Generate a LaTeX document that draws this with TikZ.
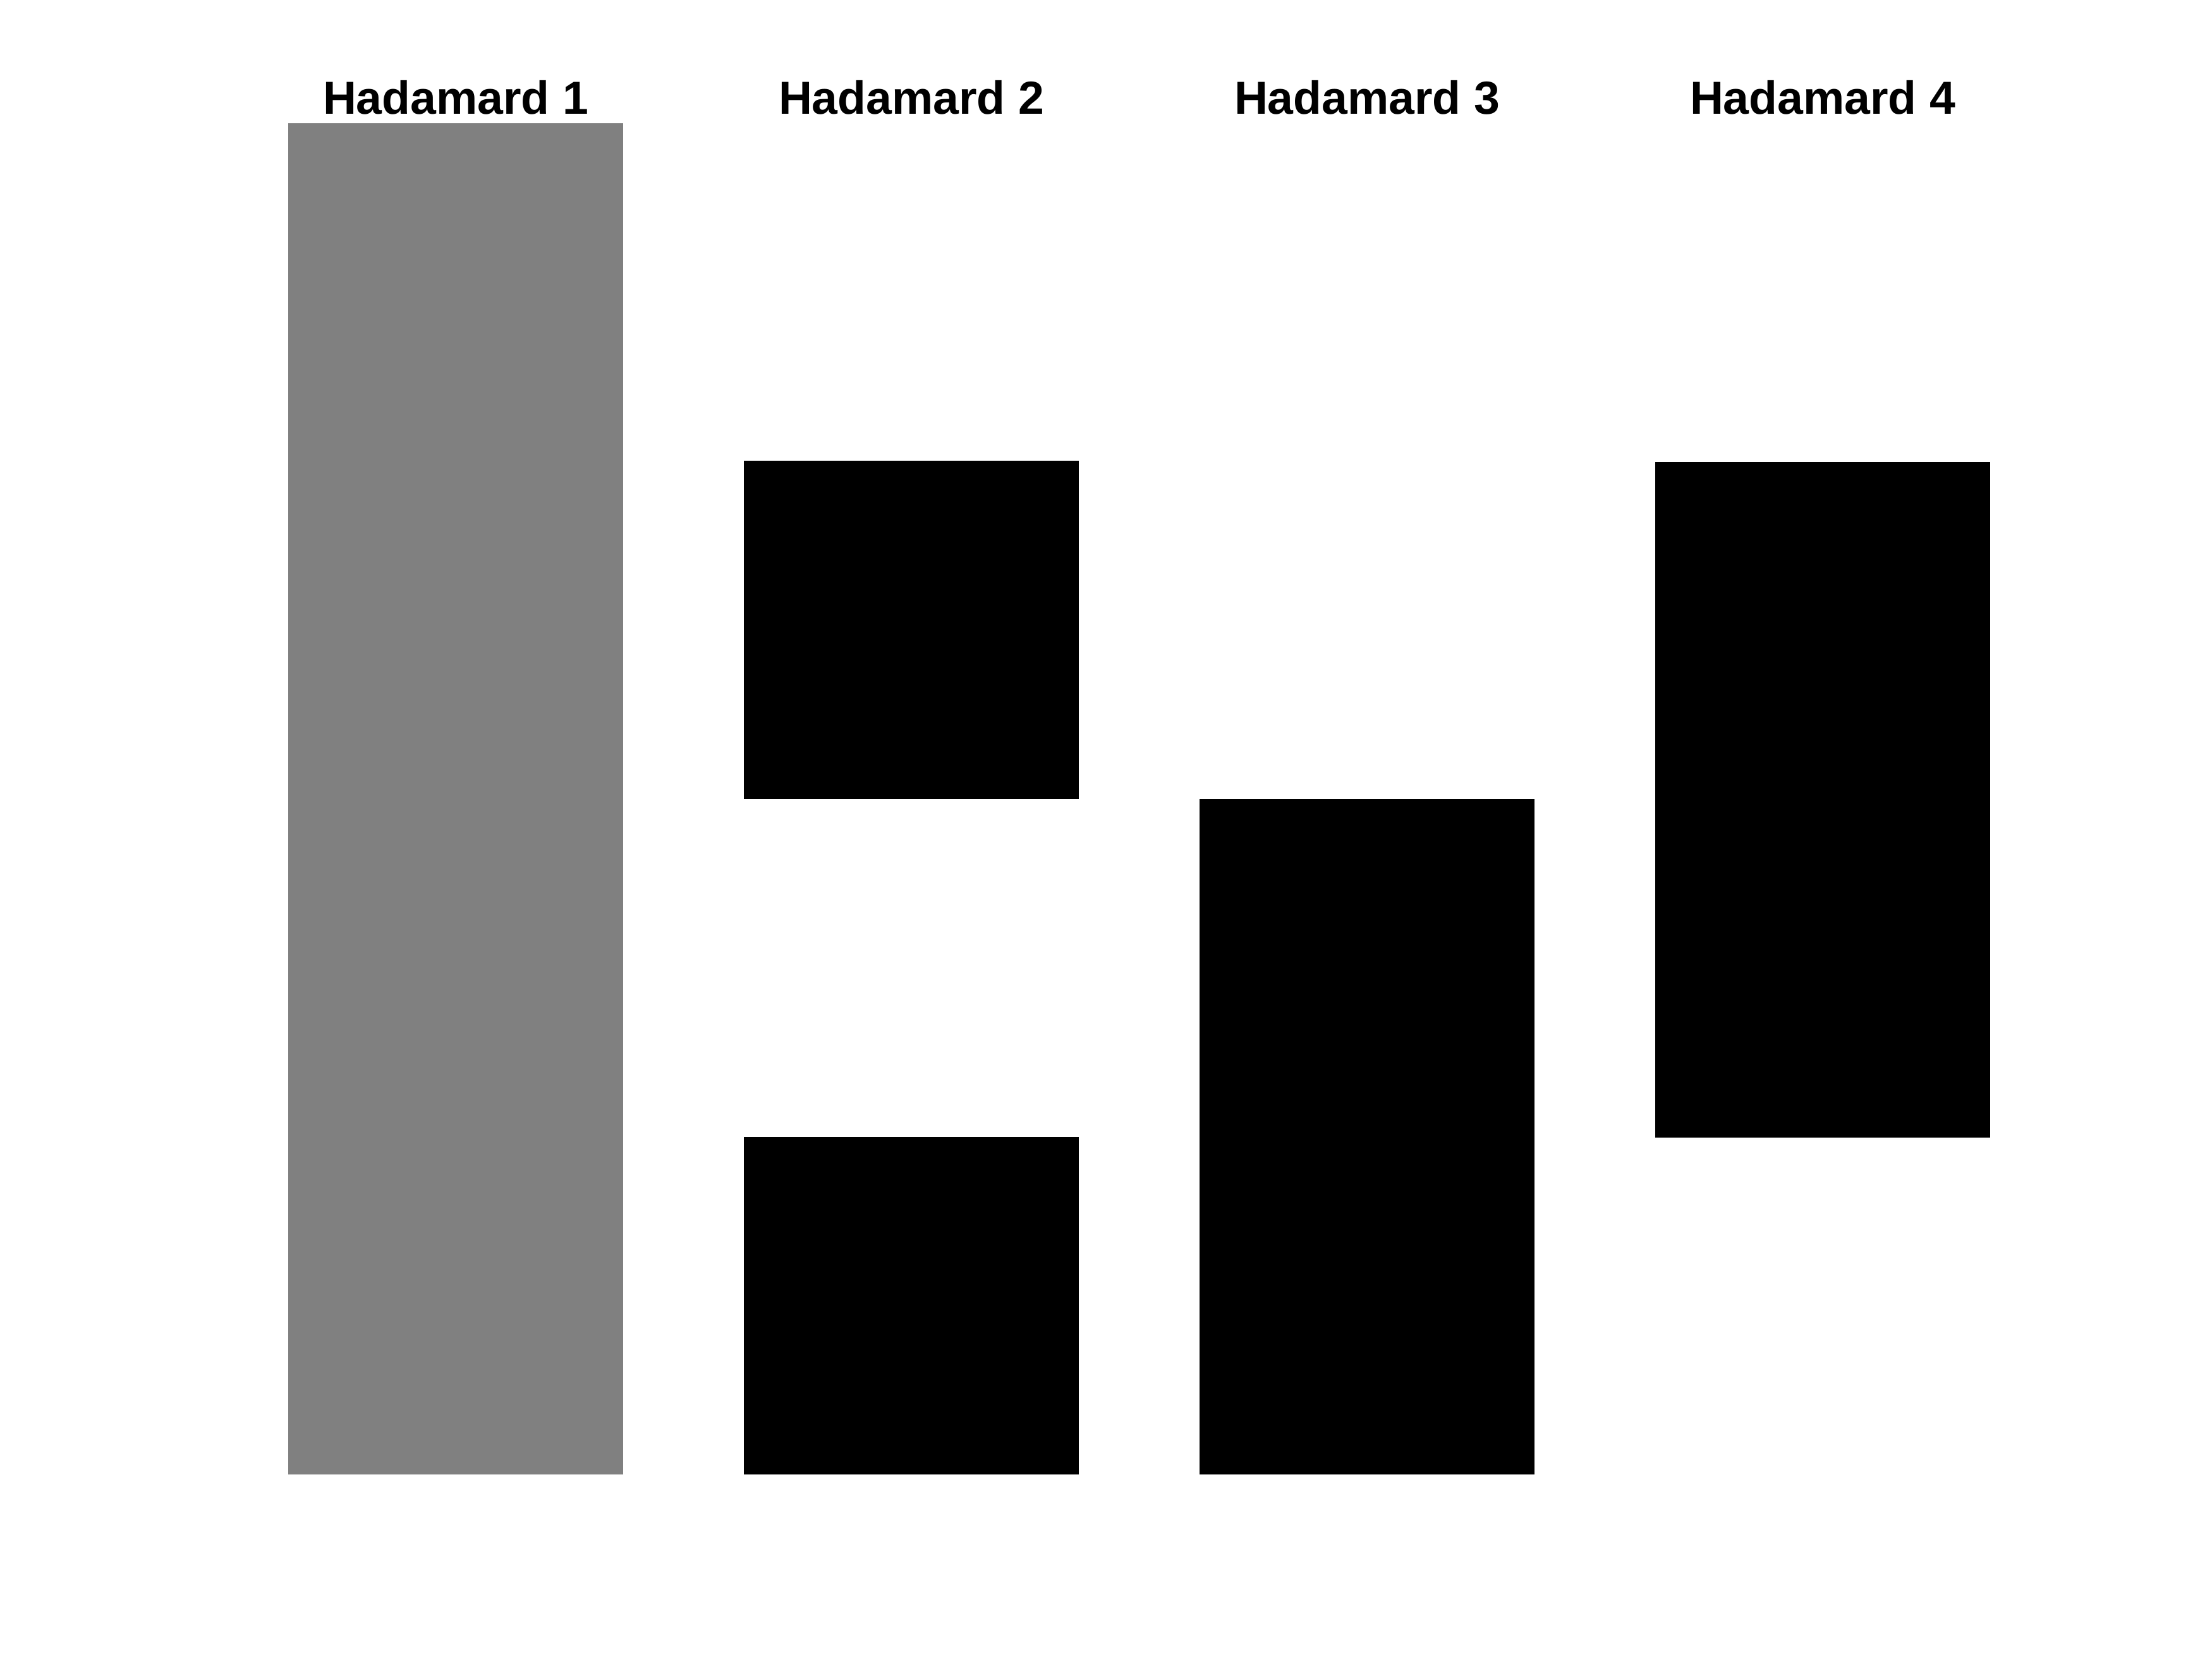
\documentclass[tikz,border=0pt]{standalone}
\usepackage{fontspec}
\setmainfont{Liberation Sans}
\usetikzlibrary{positioning}
\definecolor{hadgrey}{gray}{0.5}
\tikzset{
  fig/.style={font=\fontsize{9.35}{11}\selectfont\bfseries},
  cell/.style={draw=none,inner sep=0pt,minimum width=23.75mm,anchor=south west},
  greycell/.style={cell,fill=hadgrey},
  blackcell/.style={cell,fill=black},
  hd/.style={anchor=base,inner sep=0pt},
}
\begin{document}
\begin{tikzpicture}[fig]
\useasboundingbox (0,0) rectangle (15.68,11.76);

% columns, one row = 23.95 mm
\node[greycell,minimum height=95.8mm]  (c1)  at (2.035,1.30) {};
\node[blackcell,minimum height=23.95mm] (c2b) at (5.265,1.30) {};
\node[blackcell,minimum height=23.95mm] (c2t) at (5.265,6.09) {};
\node[blackcell,minimum height=47.9mm] (c3)  at (8.495,1.30) {};
\node[blackcell,minimum height=47.9mm] (c4)  at (11.725,3.69) {};

% headings
\node[hd] (h1) at (3.23,10.95) {Hadamard 1};
\node[hd] (h2) at (6.46,10.95) {Hadamard 2};
\node[hd] (h3) at (9.69,10.95) {Hadamard 3};
\node[hd] (h4) at (12.92,10.95) {Hadamard 4};

\end{tikzpicture}
\end{document}
